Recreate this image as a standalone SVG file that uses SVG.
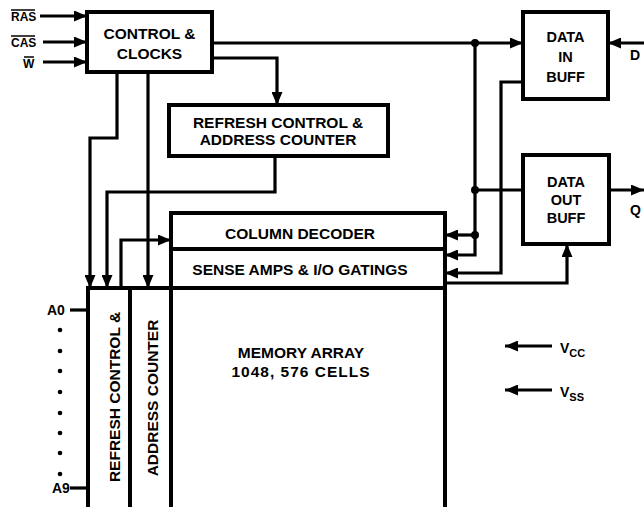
<svg xmlns="http://www.w3.org/2000/svg" width="644" height="507" viewBox="0 0 644 507">
<style>
.box{fill:#fff;stroke:#000;stroke-width:4}
.ln{fill:none;stroke:#000;stroke-width:3.2}
.arr{marker-end:url(#ah)}
text{font-family:"Liberation Sans",Arial,sans-serif;font-weight:bold;fill:#000}
.t{font-size:15.5px;text-anchor:middle}
.s{font-size:14.5px;text-anchor:middle}
.lbl{font-size:12px}
.pin{font-size:14px}
</style>
<defs>
<marker id="ah" viewBox="0 0 13 11" refX="13" refY="5.5" markerWidth="13" markerHeight="11" markerUnits="userSpaceOnUse" orient="auto">
<path d="M0,0 L13,5.5 L0,11 z" fill="#000"/>
</marker>
</defs>
<rect width="644" height="507" fill="#fff"/>

<g id="control-clocks">
<rect class="box" x="87" y="12" width="125" height="60"/>
<text class="t" x="149.5" y="39">CONTROL &amp;</text>
<text class="t" x="149.5" y="59">CLOCKS</text>
</g>

<g id="refresh-control-box">
<rect class="box" x="169" y="105" width="219" height="51"/>
<text class="t" x="278" y="128">REFRESH CONTROL &amp;</text>
<text class="t" x="278" y="145">ADDRESS COUNTER</text>
</g>

<g id="data-in-buff">
<rect class="box" x="523" y="12" width="85" height="87"/>
<text class="s" x="565.5" y="42">DATA</text>
<text class="s" x="565.5" y="62">IN</text>
<text class="s" x="565.5" y="82">BUFF</text>
</g>

<g id="data-out-buff">
<rect class="box" x="523" y="155" width="86" height="89"/>
<text class="s" x="566" y="187">DATA</text>
<text class="s" x="566" y="205">OUT</text>
<text class="s" x="566" y="223">BUFF</text>
</g>

<g id="column-decoder">
<rect class="box" x="171" y="213" width="274" height="36"/>
<text class="t" x="300" y="239">COLUMN DECODER</text>
</g>

<g id="sense-amps">
<rect class="box" x="171" y="249" width="274" height="39"/>
<text class="t" x="300" y="275">SENSE AMPS &amp; I/O GATINGS</text>
</g>

<g id="memory-array">
<rect class="box" x="171" y="288" width="274" height="230"/>
<text class="t" x="301" y="358">MEMORY ARRAY</text>
<text class="t" x="301" y="377" letter-spacing="1">1048, 576 CELLS</text>
</g>

<g id="refresh-control-vertical">
<rect class="box" x="88" y="288" width="42" height="230"/>
<text class="t" transform="translate(120,397) rotate(-90)">REFRESH CONTROL &amp;</text>
</g>

<g id="address-counter-vertical">
<rect class="box" x="130" y="288" width="41" height="230"/>
<text class="t" transform="translate(158,398) rotate(-90)">ADDRESS COUNTER</text>
</g>

<g id="labels">
<text class="lbl" x="11" y="21">RAS</text>
<line x1="11" y1="10" x2="35" y2="10" stroke="#000" stroke-width="1.5"/>
<text class="lbl" x="11" y="47">CAS</text>
<line x1="11" y1="36" x2="35" y2="36" stroke="#000" stroke-width="1.5"/>
<text class="lbl" x="23" y="68">W</text>
<line x1="24" y1="57" x2="34" y2="57" stroke="#000" stroke-width="1.5"/>
<text class="pin" x="630" y="60">D</text>
<text class="pin" x="630" y="215">Q</text>
<text class="pin" x="47" y="315">A0</text>
<text class="pin" x="52" y="493">A9</text>
<text style="font-size:14px" x="560" y="353">V<tspan style="font-size:11px" dy="4">CC</tspan></text>
<text style="font-size:14px" x="560" y="397">V<tspan style="font-size:11px" dy="4">SS</tspan></text>
<g fill="#000">
<circle cx="60" cy="330" r="2.3"/>
<circle cx="60" cy="351" r="2.3"/>
<circle cx="60" cy="371" r="2.3"/>
<circle cx="60" cy="392" r="2.3"/>
<circle cx="60" cy="413" r="2.3"/>
<circle cx="60" cy="433" r="2.3"/>
<circle cx="60" cy="453" r="2.3"/>
<circle cx="60" cy="474" r="2.3"/>
</g>
</g>

<g id="connectors">
<path class="ln arr" d="M40,16 H87"/>
<path class="ln arr" d="M43,42 H87"/>
<path class="ln arr" d="M43,62 H87"/>
<path class="ln arr" d="M212,43 H523"/>
<path class="ln arr" d="M212,58 H277 V105"/>
<path class="ln arr" d="M117,72 V138 H90 V288"/>
<path class="ln arr" d="M148,72 V288"/>
<path class="ln arr" d="M275,156 V192 H107 V288"/>
<path class="ln arr" d="M121,288 V240 H171"/>
<path class="ln arr" d="M644,43 H608"/>
<path class="ln arr" d="M475,43 V255 H445"/>
<path class="ln" d="M475,190 H523"/>
<path class="ln arr" d="M475,235 H445"/>
<path class="ln arr" d="M523,82 H501 V273 H445"/>
<path class="ln arr" d="M445,283 H567 V244"/>
<path class="ln arr" d="M609,190 H644"/>
<path class="ln" d="M70,310 H88"/>
<path class="ln" d="M70,488 H88"/>
<path class="ln arr" d="M552,346 H505"/>
<path class="ln arr" d="M552,390 H505"/>
<g fill="#000">
<circle cx="475" cy="43" r="4"/>
<circle cx="475" cy="190" r="4"/>
<circle cx="475" cy="235" r="4"/>
</g>
</g>
</svg>
